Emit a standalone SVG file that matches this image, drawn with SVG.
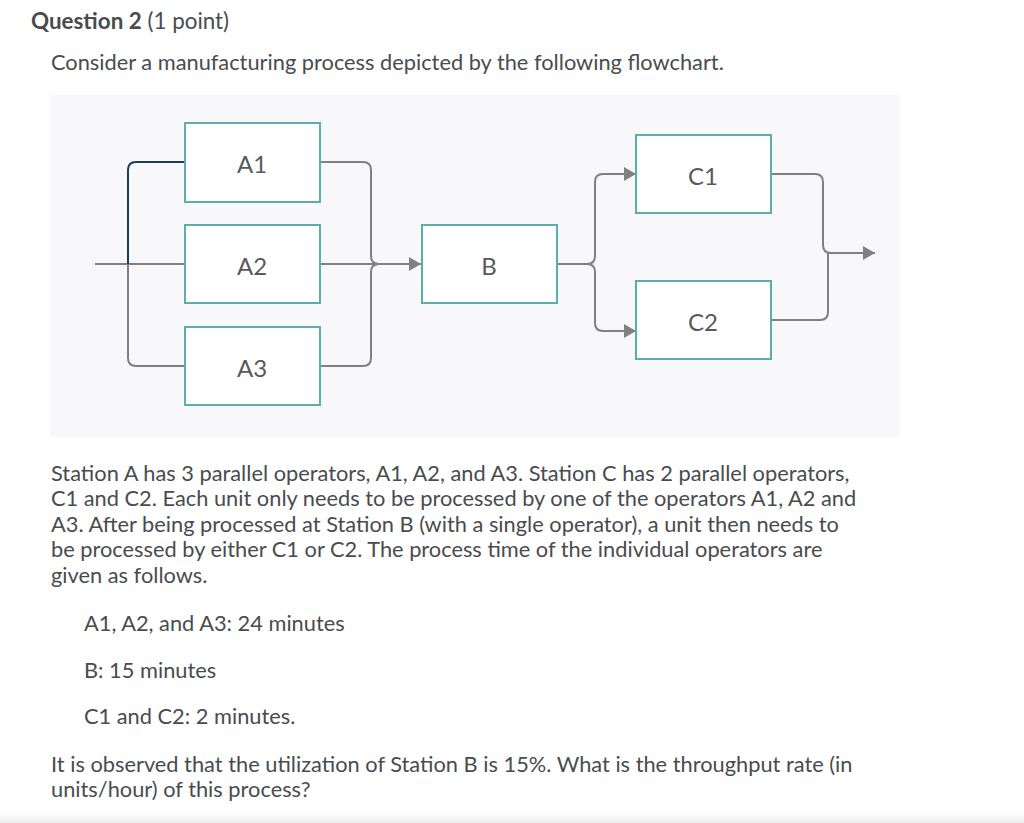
<svg xmlns="http://www.w3.org/2000/svg" width="1024" height="823" viewBox="0 0 1024 823">
<defs>
<style>
.txt{font-family:Lato,"Open Sans","Liberation Sans",sans-serif;font-size:21.8px;fill:#494c4e}
.ttl{font-family:Lato,"Open Sans","Liberation Sans",sans-serif;font-size:22.4px;fill:#494c4e}
.box{fill:#ffffff;stroke:#5aafae;stroke-width:2}
.lbl{font-family:Lato,"Open Sans","Liberation Sans",sans-serif;font-size:24px;fill:#5a5a5a;text-anchor:middle;dominant-baseline:central}
.ln{fill:none;stroke:#808080;stroke-width:2}
</style>
<marker id="arr" viewBox="0 0 12 14" refX="12" refY="7" markerWidth="12" markerHeight="14" markerUnits="userSpaceOnUse" orient="auto">
<path d="M0,0 L12,7 L0,14 Z" fill="#808080"/>
</marker>
<linearGradient id="bot" x1="0" y1="0" x2="0" y2="1">
<stop offset="0" stop-color="#ffffff"/>
<stop offset="1" stop-color="#ececec"/>
</linearGradient>
</defs>
<rect width="1024" height="823" fill="#ffffff"/>
<rect x="0" y="812" width="1024" height="11" fill="url(#bot)"/>
<text class="ttl" x="31" y="29"><tspan font-weight="bold">Question 2</tspan> (1 point)</text>
<text class="txt" x="51" y="70">Consider a manufacturing process depicted by the following flowchart.</text>
<rect x="50" y="95" width="850" height="342" fill="#f8f8fb"/>
<g id="connectors">
<path class="ln" d="M95,264 H184"/>
<path fill="none" stroke="#1b3d5a" stroke-width="2" d="M184,162 H136 Q128,162 128,170 V264"/>
<path class="ln" d="M184,366 H136 Q128,366 128,358 V264"/>
<path class="ln" d="M320,162 H363 Q371,162 371,170 V256 Q371,264 379,264"/>
<path class="ln" d="M320,366 H363 Q371,366 371,358 V272 Q371,264 379,264"/>
<path class="ln" d="M320,264 H421" marker-end="url(#arr)"/>
<path class="ln" d="M557,264 H587 Q595,264 595,256 V182 Q595,174 603,174 H636" marker-end="url(#arr)"/>
<path class="ln" d="M587,264 Q595,264 595,272 V323 Q595,331 603,331 H636" marker-end="url(#arr)"/>
<path class="ln" d="M772,174 H815 Q823,174 823,182 V245 Q823,253 831,253"/>
<path class="ln" d="M772,320 H820 Q828,320 828,312 V253 H875" marker-end="url(#arr)"/>
</g>
<g id="A1"><rect class="box" x="185" y="123" width="135" height="79"/><text class="lbl" x="252" y="163">A1</text></g>
<g id="A2"><rect class="box" x="185" y="225" width="135" height="78"/><text class="lbl" x="252" y="265">A2</text></g>
<g id="A3"><rect class="box" x="185" y="327" width="135" height="78"/><text class="lbl" x="252" y="367">A3</text></g>
<g id="B"><rect class="box" x="422" y="225" width="135" height="78"/><text class="lbl" x="489" y="265">B</text></g>
<g id="C1"><rect class="box" x="636" y="135" width="135" height="78"/><text class="lbl" x="703" y="175">C1</text></g>
<g id="C2"><rect class="box" x="636" y="281" width="135" height="78"/><text class="lbl" x="703" y="321">C2</text></g>
<text class="txt" x="51" y="481">Station A has 3 parallel operators, A1, A2, and A3. Station C has 2 parallel operators,</text>
<text class="txt" x="51" y="506">C1 and C2. Each unit only needs to be processed by one of the operators A1, A2 and</text>
<text class="txt" x="51" y="532">A3. After being processed at Station B (with a single operator), a unit then needs to</text>
<text class="txt" x="51" y="557">be processed by either C1 or C2. The process time of the individual operators are</text>
<text class="txt" x="51" y="583">given as follows.</text>
<text class="txt" x="84" y="631">A1, A2, and A3: 24 minutes</text>
<text class="txt" x="84" y="678">B: 15 minutes</text>
<text class="txt" x="84" y="724">C1 and C2: 2 minutes.</text>
<text class="txt" x="51" y="772">It is observed that the utilization of Station B is 15%. What is the throughput rate (in</text>
<text class="txt" x="51" y="797">units/hour) of this process?</text>
</svg>
